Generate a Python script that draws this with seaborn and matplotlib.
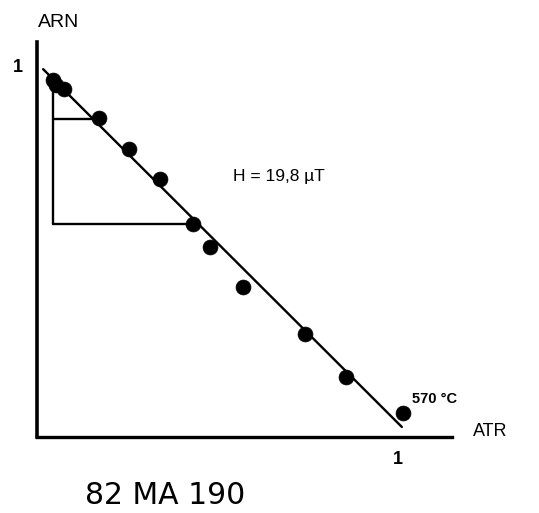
import matplotlib
matplotlib.use("Agg")
import matplotlib.pyplot as plt
import seaborn as sns
import pandas as pd

sns.set_style("white")
plt.rcParams['font.family'] = ['Liberation Sans', 'DejaVu Sans']
plt.rcParams['text.color'] = 'black'
plt.rcParams['xtick.color'] = 'black'
plt.rcParams['ytick.color'] = 'black'

# Thellier (Arai) data: ATR (TRM acquired) vs ARN (NRM remaining), normalised
atr = [0.044, 0.053, 0.075, 0.172, 0.255, 0.341, 0.432, 0.479, 0.571, 0.742, 0.856, 1.014]
arn = [0.959, 0.946, 0.935, 0.859, 0.773, 0.695, 0.573, 0.511, 0.403, 0.278, 0.162, 0.065]

# best-fit line endpoints
fit_x = [0.017, 1.011]
fit_y = [0.989, 0.027]

# construction lines (triangle used for slope)
vert_x = [0.044, 0.044]
vert_y = [0.946, 0.573]
hshort_x = [0.044, 0.172]
hshort_y = [0.854, 0.854]
hlong_x = [0.044, 0.432]
hlong_y = [0.573, 0.573]

field_label = "H = 19,8 µT"
temp_label = "570 °C"
sample_label = "82 MA 190"

df = pd.DataFrame({"ATR": atr, "ARN": arn})

fig = plt.figure(figsize=(5.39, 5.13), dpi=100)
ax = fig.add_axes([37/539, (513-437)/513, 415/539, 395/513])

for xs, ys in [(fit_x, fit_y), (vert_x, vert_y), (hshort_x, hshort_y), (hlong_x, hlong_y)]:
    sns.lineplot(x=xs, y=ys, ax=ax, color="black", linewidth=1.7, sort=False,
                 estimator=None)

sns.scatterplot(data=df, x="ATR", y="ARN", ax=ax, color="black", s=115,
                edgecolor="black", linewidth=0.5, zorder=5)

ax.set_xlim(0, 1.15)
ax.set_ylim(0, 1.062)
for s in ["top", "right"]:
    ax.spines[s].set_visible(False)
ax.spines["left"].set_linewidth(2.6)
ax.spines["bottom"].set_linewidth(2.4)
ax.spines["left"].set_color("black")
ax.spines["bottom"].set_color("black")

ax.set_xticks([1])
ax.set_yticks([1])
ax.set_xticklabels(["1"], fontsize=13, fontweight="bold")
ax.set_yticklabels(["1"], fontsize=13, fontweight="bold")
ax.tick_params(axis="x", direction="in", length=7, width=1.5, pad=10)
ax.tick_params(axis="y", direction="in", length=7, width=2, pad=10)
ax.set_xlabel("")
ax.set_ylabel("")

fig.text(59/539, 1 - 23/513, "ARN", fontsize=14, ha="center", va="center")
fig.text(490/539, 1 - 432/513, "ATR", fontsize=13, ha="center", va="center")
fig.text(233/539, 1 - 176/513, field_label, fontsize=12.5, ha="left", va="center")
fig.text(412/539, 1 - 399/513, temp_label, fontsize=10.5, ha="left", va="center",
         fontweight="bold")
fig.text(85/539, 1 - 496/513, sample_label, fontsize=21.5, ha="left", va="center",
         family=["DejaVu Sans"])

fig.savefig("out.png", dpi=100, facecolor="white")
